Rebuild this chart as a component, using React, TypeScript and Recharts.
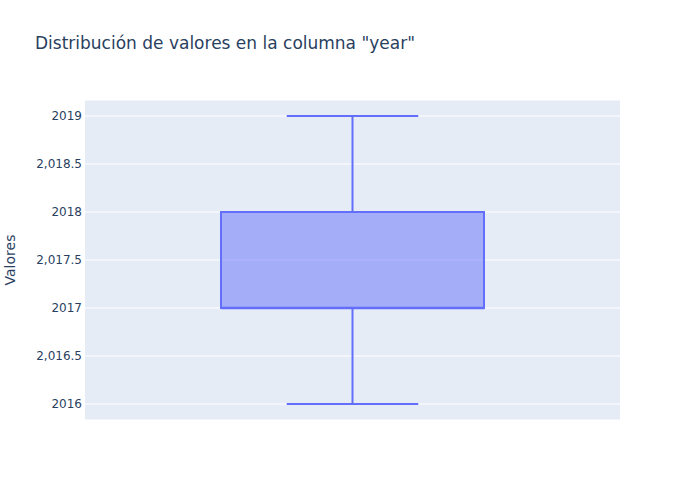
import React from "react";
import { ComposedChart, Bar, XAxis, YAxis, CartesianGrid } from "recharts";

const categories = ["year"];
const mins = [2016];
const q1s = [2017];
const medians = [2017];
const q3s = [2018];
const maxs = [2019];
const yTicks = [2016, 2016.5, 2017, 2017.5, 2018, 2018.5, 2019];

const BOX_COLOR = "#636efa";
const TEXT_COLOR = "#2a3f5f";
const FONT = '"DejaVu Sans", "Open Sans", sans-serif';

const data = categories.map((name, i) => ({
  name,
  range: [mins[i], maxs[i]],
  min: mins[i],
  q1: q1s[i],
  median: medians[i],
  q3: q3s[i],
  max: maxs[i],
}));

function formatTick(v: number) {
  if (Number.isInteger(v)) return String(v);
  return v.toLocaleString("en-US", { minimumFractionDigits: 1, maximumFractionDigits: 1 });
}

function BoxShape(props: any) {
  const { x, y, width, height, payload } = props;
  const top = Math.min(y, y + height);
  const bottom = Math.max(y, y + height);
  const lo = payload.min;
  const hi = payload.max;
  const py = (v: number) => bottom - ((v - lo) / (hi - lo)) * (bottom - top);
  const cx = x + width / 2;
  const capHalf = width / 4;
  return (
    <g>
      <line x1={cx} x2={cx} y1={py(payload.max)} y2={py(payload.q3)} stroke={BOX_COLOR} strokeWidth={2} />
      <line x1={cx} x2={cx} y1={py(payload.q1)} y2={py(payload.min)} stroke={BOX_COLOR} strokeWidth={2} />
      <line x1={cx - capHalf} x2={cx + capHalf} y1={py(payload.max)} y2={py(payload.max)} stroke={BOX_COLOR} strokeWidth={2} />
      <line x1={cx - capHalf} x2={cx + capHalf} y1={py(payload.min)} y2={py(payload.min)} stroke={BOX_COLOR} strokeWidth={2} />
      <rect
        x={x}
        y={py(payload.q3)}
        width={width}
        height={py(payload.q1) - py(payload.q3)}
        fill="rgba(99,110,250,0.5)"
        stroke={BOX_COLOR}
        strokeWidth={2}
      />
      <line x1={x} x2={x + width} y1={py(payload.median)} y2={py(payload.median)} stroke={BOX_COLOR} strokeWidth={2.5} />
    </g>
  );
}

export default function App() {
  return (
    <div style={{ position: "absolute", left: 0, top: 0, width: 700, height: 500, background: "#fff", fontFamily: FONT }}>
      <div style={{ position: "absolute", left: 35, top: 33, fontSize: 17, color: TEXT_COLOR, whiteSpace: "nowrap" }}>
        Distribución de valores en la columna "year"
      </div>
      <div
        style={{
          position: "absolute",
          left: 10,
          top: 260,
          fontSize: 14,
          color: TEXT_COLOR,
          transform: "translate(-50%, -50%) rotate(-90deg)",
          transformOrigin: "center",
          whiteSpace: "nowrap",
        }}
      >
        Valores
      </div>
      <ComposedChart width={700} height={500} data={data} margin={{ top: 100, right: 80, bottom: 80, left: 0 }}>
        <CartesianGrid vertical={false} stroke="#ffffff" strokeWidth={1} fill="#E5ECF6" />
        <XAxis dataKey="name" hide />
        <YAxis
          type="number"
          width={85}
          domain={[2015.8333, 2019.1667]}
          ticks={yTicks}
          tickFormatter={formatTick}
          axisLine={false}
          tickLine={false}
          tickSize={0}
          tickMargin={3}
          allowDataOverflow
          tick={{ fill: TEXT_COLOR, fontSize: 12, fontFamily: FONT }}
        />
        <Bar dataKey="range" barSize={263} shape={<BoxShape />} isAnimationActive={false} />
      </ComposedChart>
    </div>
  );
}
